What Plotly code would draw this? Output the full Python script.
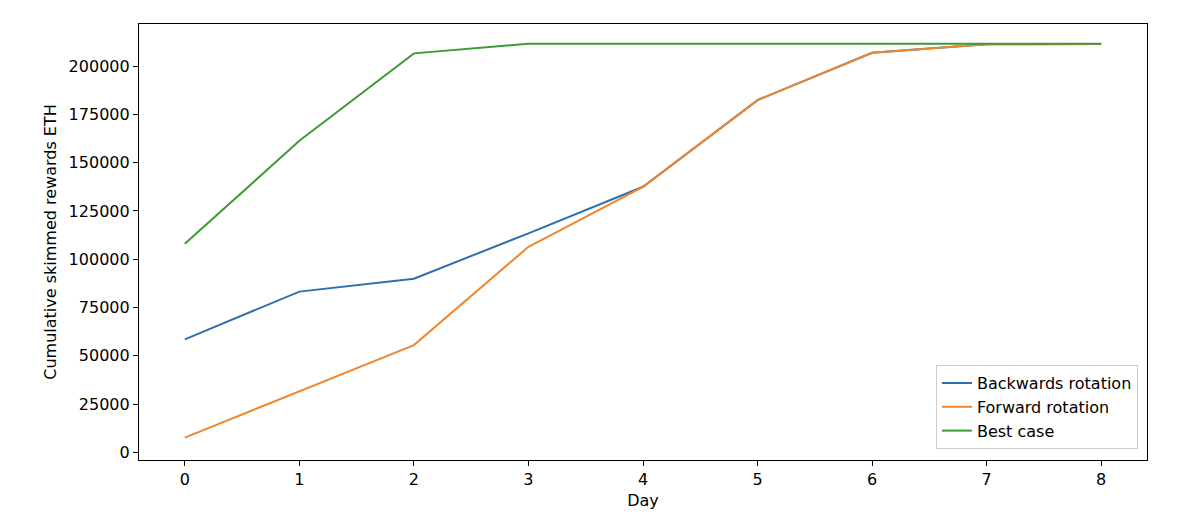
import plotly.graph_objects as go

# cumulative skimmed rewards per day
days = [0, 1, 2, 3, 4, 5, 6, 7, 8]
backwards = [58500, 83200, 89900, 113400, 137500, 182400, 206900, 211300, 211500]
forward = [7600, 31400, 55500, 106400, 137500, 182400, 206900, 211300, 211500]
best_case = [108000, 161300, 206600, 211600, 211600, 211600, 211600, 211600, 211600]

y_ticks = [0, 25000, 50000, 75000, 100000, 125000, 150000, 175000, 200000]

COLORS = {
	'BLUE': '#2f6fad',
	'ORANGE': '#f0862d',
	'GREEN': '#3d9a35',
}

FONT = 'DejaVu Sans'

fig = go.Figure()

fig.add_trace(go.Scatter(
	x=days, y=backwards,
	mode='lines',
	name='Backwards rotation',
	line=dict(color=COLORS['BLUE'], width=2),
))
fig.add_trace(go.Scatter(
	x=days, y=forward,
	mode='lines',
	name='Forward rotation',
	line=dict(color=COLORS['ORANGE'], width=2),
))
fig.add_trace(go.Scatter(
	x=days, y=best_case,
	mode='lines',
	name='Best case',
	line=dict(color=COLORS['GREEN'], width=2),
))

fig.update_xaxes(
	range=[-0.4, 8.4],
	tickvals=days,
	showgrid=False, zeroline=False,
	showline=True, linecolor='black', linewidth=1.2, mirror=True,
	ticks='outside', ticklen=5, tickcolor='black',
	tickfont=dict(family=FONT, size=16, color='black'),
	title_text='Day',
	title_font=dict(family=FONT, size=16, color='black'),
	title_standoff=6,
)
fig.update_yaxes(
	range=[-4000, 221800],
	tickvals=y_ticks,
	tickformat='d',
	showgrid=False, zeroline=False,
	showline=True, linecolor='black', linewidth=1.2, mirror=True,
	ticks='outside', ticklen=5, tickcolor='black',
	tickfont=dict(family=FONT, size=16, color='black'),
	title_text='Cumulative skimmed rewards ETH',
	title_font=dict(family=FONT, size=16, color='black'),
	title_standoff=8,
)

# page body has an 8px margin, so pull the plot area back by that much
fig.update_layout(
	width=1200, height=518,
	margin=dict(l=131, r=61, t=16, b=66),
	plot_bgcolor='white',
	paper_bgcolor='white',
	font=dict(family=FONT, size=16, color='black'),
	legend=dict(
		x=0.991, y=0.025,
		xanchor='right', yanchor='bottom',
		bgcolor='rgba(255,255,255,0.8)',
		bordercolor='#cccccc', borderwidth=1,
		font=dict(family=FONT, size=16, color='black'),
		tracegroupgap=0,
	),
)

fig.write_html("out.html")
